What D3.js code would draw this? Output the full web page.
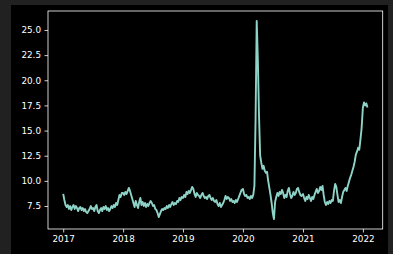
<!DOCTYPE html>
<html>
<head>
<meta charset="utf-8">
<script src="https://cdn.jsdelivr.net/npm/d3@7"></script>
<style>
body { margin: 0; background: #212121; }
</style>
</head>
<body>
<div id="chart"></div>
<script>

// weekly values, each year starts on Jan 1
var v2017 = [8.7, 8.1, 7.6, 7.4, 7.6, 7.2, 7.5, 7.1, 7.4, 7.6,
    7.2, 7.5, 7.3, 7.0, 7.3, 7.4, 7.1, 7.3, 7.0, 7.2,
    6.9, 6.8, 7.0, 7.2, 7.5, 7.2, 7.3, 7.0, 7.4, 7.6,
    7.0, 6.8, 7.1, 7.3, 7.0, 7.4, 7.2, 7.5, 7.1, 7.3,
    7.0, 7.2, 7.5, 7.3, 7.6, 7.4, 7.8, 7.6, 8.1, 8.6,
    8.4, 8.8];
var v2018 = [8.8, 8.6, 8.9, 8.7, 9.0, 9.3, 9.0, 8.6, 8.2, 7.8,
    7.4, 8.0, 7.6, 7.3, 7.9, 8.3, 7.6, 7.9, 7.5, 7.8,
    7.4, 7.7, 7.5, 7.8, 8.0, 7.8, 7.5, 7.6, 7.2, 7.1,
    6.8, 6.4, 6.7, 7.0, 7.2, 7.1, 7.3, 7.2, 7.5, 7.3,
    7.6, 7.4, 7.7, 7.9, 7.6, 7.8, 7.7, 8.0, 7.9, 8.3,
    8.1, 8.4];
var v2019 = [8.3, 8.6, 8.4, 8.9, 8.7, 9.0, 8.8, 9.1, 9.4, 9.2,
    8.7, 8.4, 8.8, 8.6, 8.5, 8.3, 8.6, 8.8, 8.5, 8.3,
    8.4, 8.2, 8.5, 8.6, 8.3, 8.1, 8.3, 8.0, 7.9, 8.1,
    7.7, 7.5, 7.8, 7.4, 7.6, 7.8, 8.1, 8.5, 8.2, 8.4,
    8.3, 8.0, 8.2, 7.9, 8.0, 7.8, 8.1, 7.9, 8.2, 8.5,
    8.8, 9.1];
var v2020 = [9.2, 8.7, 8.5, 8.6, 8.3, 8.4, 8.2, 8.5, 8.3, 8.6,
    9.5, 16.0, 25.9, 22.0, 16.5, 12.5, 11.8, 11.2, 11.5, 11.0,
    10.8, 10.9, 10.0, 9.3, 8.6, 7.8, 6.8, 6.2, 7.9, 8.4,
    8.8, 8.5, 8.9, 8.7, 9.1, 8.8, 8.3, 8.6, 8.4, 9.0,
    9.3, 8.7, 8.3, 8.5, 8.9, 8.6, 8.8, 9.2, 9.3, 8.9,
    8.6, 8.5];
var v2021 = [8.7, 8.3, 8.0, 8.4, 8.2, 8.6, 8.3, 8.0, 8.4, 8.2,
    8.6, 8.9, 9.2, 8.8, 9.0, 9.4, 9.1, 9.5, 8.6, 7.9,
    7.6, 7.9, 7.7, 8.0, 7.8, 8.1, 8.0, 9.0, 9.7, 9.4,
    8.6, 7.9, 8.1, 7.8, 8.4, 8.9, 9.1, 9.3, 9.0, 9.5,
    9.9, 10.3, 10.6, 11.0, 11.4, 11.9, 12.6, 12.9, 13.3, 13.1,
    14.1, 15.2];
var v2022 = [17.3, 17.8, 17.5, 17.7, 17.3];

var years = [2017, 2018, 2019, 2020, 2021, 2022];
var yearValues = [v2017, v2018, v2019, v2020, v2021, v2022];
var yTicks = [7.5, 10.0, 12.5, 15.0, 17.5, 20.0, 22.5, 25.0];

var data = [];
years.forEach(function (yr, k) {
    yearValues[k].forEach(function (v, i) {
        data.push({ date: d3.timeDay.offset(new Date(yr, 0, 1), i * 7), value: v });
    });
});

var W = 393, H = 254;
var margin = { top: 11, right: 10.3, bottom: 25, left: 48 },
    width = W - margin.left - margin.right,
    height = H - margin.top - margin.bottom;

var root = d3.select("#chart")
    .append("svg")
    .attr("width", W)
    .attr("height", H)
    .style("display", "block");

root.append("rect")
    .attr("x", 11).attr("y", 5)
    .attr("width", 377).attr("height", 249)
    .attr("fill", "#000");

var svg = root.append("g")
    .attr("transform", "translate(" + margin.left + "," + margin.top + ")");

// matplotlib style 5% padding
var xExt = d3.extent(data, function (d) { return +d.date; });
var xPad = (xExt[1] - xExt[0]) * 0.05;
var x = d3.scaleTime()
    .domain([new Date(xExt[0] - xPad), new Date(xExt[1] + xPad)])
    .range([0, width]);

var yExt = d3.extent(data, function (d) { return d.value; });
var yPad = (yExt[1] - yExt[0]) * 0.05;
var y = d3.scaleLinear()
    .domain([yExt[0] - yPad, yExt[1] + yPad])
    .range([height, 0]);

var line = d3.line()
    .x(function (d) { return x(d.date); })
    .y(function (d) { return y(d.value); });

svg.append("path")
    .datum(data)
    .attr("fill", "none")
    .attr("stroke", "#8dd3c7")
    .attr("stroke-width", 1.9)
    .attr("stroke-linejoin", "round")
    .attr("d", line);

var xAxis = svg.append("g")
    .attr("transform", "translate(0," + height + ")")
    .call(d3.axisBottom(x)
        .tickValues(years.map(function (yr) { return new Date(yr, 0, 1); }))
        .tickFormat(d3.timeFormat("%Y"))
        .tickSizeInner(3.5).tickSizeOuter(0).tickPadding(3.5));

var yAxis = svg.append("g")
    .call(d3.axisLeft(y)
        .tickValues(yTicks)
        .tickFormat(d3.format(".1f"))
        .tickSizeInner(3.5).tickSizeOuter(0).tickPadding(3.5));

[xAxis, yAxis].forEach(function (a) {
    a.select(".domain").remove();
    a.selectAll("line").attr("stroke", "#fff").attr("stroke-width", 0.8);
    a.selectAll("text")
        .attr("fill", "#fff")
        .style("font-family", "DejaVu Sans")
        .style("font-size", "8.8px");
});

svg.append("rect")
    .attr("width", width).attr("height", height)
    .attr("fill", "none")
    .attr("stroke", "#fff")
    .attr("stroke-width", 0.8);

</script>
</body>
</html>
